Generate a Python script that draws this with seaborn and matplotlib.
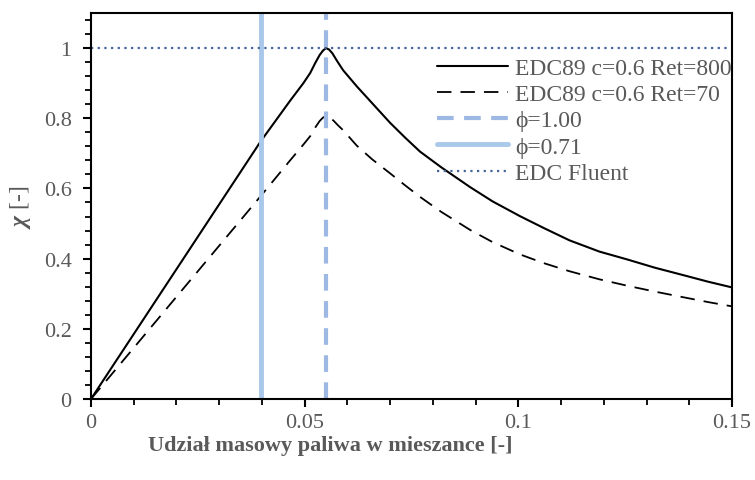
import matplotlib
matplotlib.use("Agg")
import matplotlib.pyplot as plt
import matplotlib.ticker as mticker
import seaborn as sns
import pandas as pd

# ---- data ----
x_ret800 = [0, 0.0397, 0.0466, 0.0497, 0.0513, 0.0525, 0.0535, 0.0543, 0.055, 0.0557,
            0.0565, 0.0575, 0.0583, 0.059, 0.0622, 0.0658, 0.07, 0.0735, 0.077, 0.082,
            0.0887, 0.094, 0.1004, 0.106, 0.112, 0.119, 0.1254, 0.132, 0.1386, 0.1445, 0.15]
y_ret800 = [0, 0.734, 0.85, 0.90, 0.929, 0.958, 0.98, 0.993, 1.0, 0.996,
            0.985, 0.965, 0.95, 0.937, 0.891, 0.843, 0.787, 0.745, 0.705, 0.66,
            0.604, 0.563, 0.521, 0.487, 0.452, 0.42, 0.398, 0.374, 0.353, 0.334, 0.318]

x_ret70 = [0, 0.0397, 0.0466, 0.0497, 0.0513, 0.0525, 0.0535, 0.0543, 0.055, 0.0557,
           0.0567, 0.0578, 0.059, 0.0622, 0.0658, 0.07, 0.0735, 0.077, 0.082,
           0.0887, 0.094, 0.1004, 0.106, 0.112, 0.119, 0.1254, 0.132, 0.1386, 0.1445, 0.15]
y_ret70 = [0, 0.578, 0.68, 0.725, 0.749, 0.774, 0.792, 0.802, 0.806, 0.803,
           0.794, 0.78, 0.766, 0.722, 0.683, 0.643, 0.609, 0.576, 0.533,
           0.482, 0.447, 0.412, 0.387, 0.364, 0.341, 0.323, 0.306, 0.29, 0.276, 0.264]

phi_stoich_x = 0.055   # phi = 1.00
phi_lean_x = 0.0397    # phi = 0.71
edc_fluent_y = 1.0

labels = ["EDC89 c=0.6 Ret=800", "EDC89 c=0.6 Ret=70", "\u03d5=1.00", "\u03d5=0.71", "EDC Fluent"]
x_ticks = [0, 0.05, 0.1, 0.15]
y_ticks = [0, 0.2, 0.4, 0.6, 0.8, 1.0]

df800 = pd.DataFrame({"x": x_ret800, "y": y_ret800})
df70 = pd.DataFrame({"x": x_ret70, "y": y_ret70})

sns.set_style("ticks")
plt.rcParams["font.family"] = ["Liberation Serif", "DejaVu Serif"]
plt.rcParams["mathtext.fontset"] = "custom"
plt.rcParams["mathtext.rm"] = "Liberation Serif"
plt.rcParams["mathtext.it"] = "Liberation Serif:italic"
plt.rcParams["mathtext.bf"] = "Liberation Serif:bold"
try:
    plt.rcParams["mathtext.bfit"] = "Liberation Serif:italic:bold"
    ylab = r"$\mathbfit{\chi}$ [-]"
except KeyError:
    ylab = "\u03c7 [-]"
grey = "#595959"

fig, ax = plt.subplots(figsize=(7.55, 4.81), dpi=100)
fig.subplots_adjust(left=0.1205, right=0.9695, bottom=0.1684, top=0.9709)

sns.lineplot(data=df800, x="x", y="y", ax=ax, color="black", lw=1.5,
             label=labels[0], sort=False)
sns.lineplot(data=df70, x="x", y="y", ax=ax, color="black", lw=1.3,
             label=labels[1], sort=False)
ax.lines[1].set_dashes([8, 5])
ax.axvline(phi_stoich_x, color="#9DB8E3", lw=3, dashes=[4, 2.5], label=labels[2])
ax.axvline(phi_lean_x, color="#A9C8EA", lw=3.5, label=labels[3])
ax.axhline(edc_fluent_y, color="#44659A", lw=1.6, ls=(0, (1, 2)), label=labels[4])

ax.set_xlim(0, 0.15)
ax.set_ylim(0, 1.1)
ax.set_xticks(x_ticks)
ax.set_yticks(y_ticks)
ax.xaxis.set_minor_locator(mticker.MultipleLocator(0.01))
ax.yaxis.set_minor_locator(mticker.MultipleLocator(0.04))
fmt = mticker.FuncFormatter(lambda v, p: f"{v:g}")
ax.xaxis.set_major_formatter(fmt)
ax.yaxis.set_major_formatter(fmt)

for s in ax.spines.values():
    s.set_visible(True)
    s.set_linewidth(1.5)
    s.set_color("black")
ax.tick_params(which="major", direction="out", length=6, width=1.5, colors="black",
               labelsize=16, labelcolor=grey)
ax.tick_params(axis="x", which="major", pad=4)
ax.tick_params(axis="y", which="major", pad=8)
ax.tick_params(which="minor", direction="out", length=4, width=1.3, colors="black")

ax.set_xlabel("Udział masowy paliwa w mieszance [-]", fontsize=16, fontweight="bold",
              color=grey)
ax.xaxis.set_label_coords(0.373, -0.118, transform=ax.transAxes)
ax.xaxis.label.set_verticalalignment("center")
ax.set_ylabel(ylab, fontsize=17, color=grey, labelpad=8)

leg = ax.legend(loc="upper right", frameon=False, fontsize=17, handlelength=3.0,
                handletextpad=0.3, labelspacing=0.2, borderaxespad=0.0, borderpad=0.0,
                bbox_to_anchor=(1.0, 0.885))
for t in leg.get_texts():
    t.set_color(grey)

fig.savefig("out.png", dpi=100)
